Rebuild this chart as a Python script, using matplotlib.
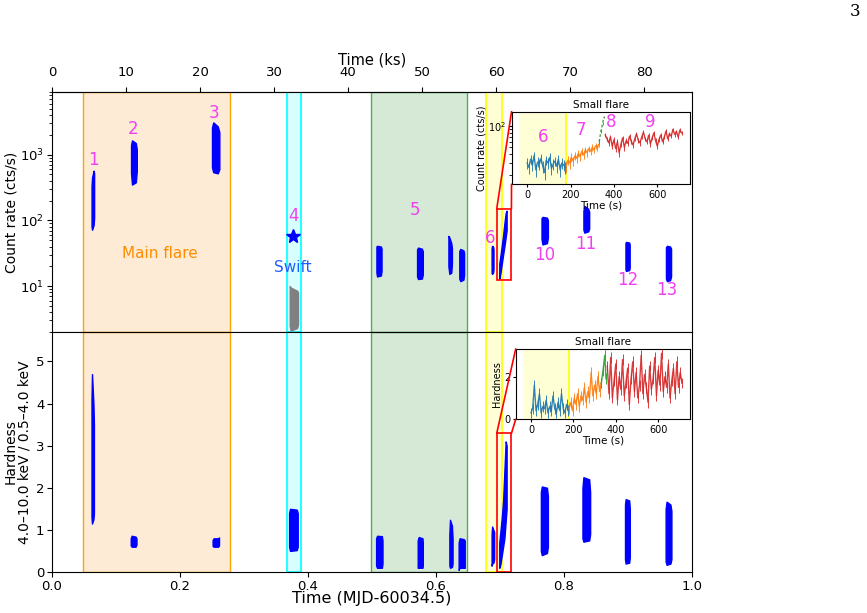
import matplotlib
matplotlib.use("Agg")
import matplotlib.pyplot as plt
from matplotlib.patches import Rectangle, ConnectionPatch

# --- data ---
# main panels: each segment as (times, lower edge, upper edge)
rate_segments = {
    "1": ([0.0618, 0.0626, 0.0650, 0.0658], [80, 72, 85, 110], [330, 450, 570, 520]),
    "2": ([0.1235, 0.125, 0.131, 0.1325], [520, 350, 380, 560], [1400, 1650, 1500, 1200]),
    "3": ([0.250, 0.252, 0.259, 0.2615], [640, 540, 520, 600], [2600, 3100, 2700, 2200]),
    "5a": ([0.507, 0.508, 0.514, 0.515], [16, 14, 14.5, 17], [40, 41, 40, 37]),
    "5b": ([0.5705, 0.572, 0.578, 0.5795], [14, 12.8, 13, 15], [36, 38.5, 37, 34]),
    "5c": ([0.6195, 0.621, 0.624, 0.625], [20, 15.3, 16, 22], [58, 55, 45, 38]),
    "5d": ([0.6365, 0.638, 0.643, 0.644], [13, 11.9, 12.5, 15], [34, 36.7, 35, 32]),
    "6": ([0.687, 0.6878, 0.6893, 0.690], [16, 15.3, 16, 18], [38, 41, 40, 36]),
    "flare": ([0.699, 0.701, 0.703, 0.705, 0.707, 0.709, 0.7105],
              [13, 16, 22, 30, 40, 55, 70], [22, 30, 42, 60, 90, 130, 140]),
    "10": ([0.765, 0.7665, 0.7735, 0.775], [52, 43, 45, 55], [108, 113, 110, 100]),
    "11": ([0.8305, 0.832, 0.838, 0.8395], [72, 65, 68, 75], [140, 166, 150, 135]),
    "12": ([0.8962, 0.897, 0.902, 0.9028], [18, 17, 17.5, 19], [45, 47, 46, 43]),
    "13": ([0.9595, 0.961, 0.966, 0.9675], [13, 11.9, 12.3, 14], [39, 41, 40, 37]),
}
swift_rate = ([0.3715, 0.373, 0.383, 0.3845], [2.5, 2.1, 2.3, 2.6], [10, 9.5, 8.5, 8])
swift_star = (0.377, 58)

hard_segments = {
    "1": ([0.0617, 0.0625, 0.0647, 0.0655], [1.3, 1.15, 1.25, 1.4], [4.1, 4.7, 4.0, 3.5]),
    "2": ([0.123, 0.1245, 0.1305, 0.132], [0.63, 0.6, 0.6, 0.65], [0.8, 0.86, 0.84, 0.8]),
    "3": ([0.251, 0.2525, 0.2595, 0.261], [0.62, 0.6, 0.6, 0.63], [0.76, 0.8, 0.8, 0.82]),
    "4": ([0.3705, 0.372, 0.3825, 0.384], [0.6, 0.5, 0.52, 0.6], [1.4, 1.5, 1.48, 1.4]),
    "5a": ([0.5065, 0.508, 0.5155, 0.5165], [0.15, 0.1, 0.1, 0.2], [0.8, 0.86, 0.85, 0.75]),
    "5b": ([0.5715, 0.573, 0.579, 0.5795], [0.1, 0.1, 0.1, 0.15], [0.75, 0.83, 0.8, 0.7]),
    "5c": ([0.621, 0.622, 0.625, 0.626], [0.15, 0.1, 0.12, 0.2], [0.9, 1.24, 1.1, 0.8]),
    "5d": ([0.6355, 0.637, 0.6435, 0.645], [0.05, 0.1, 0.1, 0.1], [0.7, 0.8, 0.78, 0.75]),
    "6": ([0.687, 0.6878, 0.6898, 0.691], [0.15, 0.2, 0.22, 0.3], [0.9, 1.08, 1.0, 0.95]),
    "flare": ([0.699, 0.701, 0.703, 0.705, 0.707, 0.709, 0.7105],
              [0.1, 0.2, 0.4, 0.6, 0.8, 1.2, 1.5], [0.7, 1.0, 1.3, 1.7, 2.4, 3.1, 3.0]),
    "10": ([0.764, 0.7655, 0.7735, 0.775], [0.5, 0.4, 0.45, 0.6], [1.9, 2.03, 2.0, 1.8]),
    "11": ([0.829, 0.8305, 0.8395, 0.841], [0.8, 0.72, 0.75, 0.9], [2.0, 2.25, 2.2, 1.9]),
    "12": ([0.8955, 0.8965, 0.902, 0.903], [0.3, 0.2, 0.22, 0.35], [1.6, 1.73, 1.7, 1.5]),
    "13": ([0.959, 0.9605, 0.9665, 0.968], [0.25, 0.17, 0.2, 0.3], [1.5, 1.67, 1.6, 1.45]),
}

# segment labels (text, x, count rate)
seg_labels = [("1", 0.064, 815), ("2", 0.127, 2500), ("3", 0.253, 4300),
              ("4", 0.377, 117), ("5", 0.567, 145), ("6", 0.684, 54),
              ("10", 0.770, 29.7), ("11", 0.834, 44), ("12", 0.900, 12.3),
              ("13", 0.961, 8.7)]

# shaded intervals (MJD-60034.5)
main_flare = (0.048, 0.278)
swift_win = (0.368, 0.389)
green_win = (0.499, 0.649)
yellow_win = (0.679, 0.704)
zoom_box = (0.695, 0.718)
zoom_rate = (12.4, 150)
zoom_hard = (0.0, 3.29)

# small flare insets (time in s)
t_blue = [0, 8, 16, 24, 32, 40, 48, 56, 64, 72, 80, 88, 96, 104, 112, 120,
          128, 136, 144, 152, 160, 168, 176]
t_orange = [180, 188, 196, 204, 212, 220, 228, 236, 244, 252, 260, 268, 276,
            284, 292, 300, 308, 316, 324, 330]
t_green = [332, 340, 348, 354]
t_red = [360, 368, 376, 384, 392, 400, 408, 416, 424, 432, 440, 448, 456, 464,
         472, 480, 488, 496, 504, 512, 520, 528, 536, 544, 552, 560, 568, 576,
         584, 592, 600, 608, 616, 624, 632, 640, 648, 656, 664, 672, 680, 688,
         696, 704, 712]

rate_blue = [30, 26, 34, 28, 38, 24, 31, 29, 35, 27, 22, 33, 30, 36, 25, 29,
             32, 27, 34, 24, 30, 28, 26]
rate_orange = [27, 33, 30, 36, 32, 38, 35, 41, 37, 44, 39, 46, 42, 48, 44, 50,
               46, 53, 49, 55]
rate_green = [60, 85, 110, 135]
rate_red = [75, 66, 58, 70, 52, 64, 48, 60, 42, 55, 68, 50, 62, 57, 72, 61, 54,
            66, 78, 63, 58, 70, 82, 66, 60, 74, 56, 68, 80, 62, 52, 65, 75, 60,
            70, 85, 66, 78, 72, 90, 76, 84, 70, 88, 80]

hard_blue = [0.3, 0.5, 1.6, 0.4, 0.7, 1.2, 0.3, 0.6, 0.5, 0.9, 0.3, 0.6, 0.4,
             1.1, 0.5, 0.3, 0.8, 0.4, 1.2, 0.5, 0.3, 0.7, 0.4]
hard_orange = [0.5, 0.8, 0.4, 1.0, 0.7, 1.2, 0.6, 1.1, 0.9, 1.5, 0.8, 1.3, 1.0,
               2.2, 1.1, 1.6, 1.2, 2.0, 1.3, 1.7]
hard_green = [1.7, 2.3, 3.0, 1.9]
hard_red = [2.5, 1.2, 2.9, 1.0, 1.8, 2.6, 0.9, 2.0, 1.4, 2.8, 1.1, 1.7, 2.4, 0.7,
            1.9, 2.7, 1.3, 2.2, 1.0, 1.6, 3.0, 1.2, 2.1, 1.5, 0.8, 2.5, 1.4, 1.9,
            2.9, 1.1, 2.3, 1.6, 3.1, 1.3, 2.0, 1.5, 2.6, 1.0, 1.8, 2.4, 1.2, 2.7,
            1.5, 2.2, 1.7]
rate_err = 5.0     # typical 1-sigma error, cts/s
hard_err = 0.25

inset_labels = [("6", 74, 69), ("7", 247, 88), ("8", 385, 115), ("9", 569, 115)]
yellow_inset = (-36, 178)

MAG = "#f040f0"


def shade(ax):
    ax.axvspan(*main_flare, facecolor="#fdebd6", edgecolor="orange", lw=1.0)
    ax.axvspan(*swift_win, facecolor="#d8ffff", edgecolor="cyan", lw=1.2)
    ax.axvspan(*green_win, facecolor="#d6e9d6", edgecolor="#4caf50", lw=1.0)
    ax.axvspan(*yellow_win, facecolor="#ffffd6", edgecolor="yellow", lw=1.2)


def draw_segments(ax, segs, color="blue"):
    for t, lo, hi in segs.values():
        ax.fill_between(t, lo, hi, color=color, lw=1.0, zorder=3)


def inset(fig, rect, series, err, ylog):
    ax = fig.add_axes(rect)
    ax.axvspan(*yellow_inset, facecolor="#ffffd6", zorder=0)
    ax.axvline(yellow_inset[1], color="yellow", lw=1.2, zorder=1)
    cols = ["tab:blue", "tab:orange", "tab:green", "tab:red"]
    for (t, v), c in zip(series, cols):
        ls = (0, (2, 1.5)) if (c == "tab:green" and ylog) else "-"
        ax.errorbar(t, v, yerr=err, color=c, lw=1.0, ls=ls, elinewidth=0.7,
                    capsize=0, alpha=0.9)
    ax.set_xlim(-72, 750)
    ax.set_xticks([0, 200, 400, 600])
    ax.tick_params(labelsize=7, length=2.5, pad=1.5)
    ax.set_xlabel("Time (s)", fontsize=7.5, labelpad=0.5)
    ax.set_title("Small flare", fontsize=7.5, pad=3)
    if ylog:
        ax.set_yscale("log")
        ax.set_ylim(15, 160)
    return ax


fig = plt.figure(figsize=(8.67, 6.13), dpi=100)
ax1 = fig.add_axes([0.060, 0.4584, 0.738, 0.3916])
ax2 = fig.add_axes([0.060, 0.0669, 0.738, 0.3916], sharex=ax1)

# top: count rate
shade(ax1)
draw_segments(ax1, rate_segments)
ax1.fill_between(*swift_rate, color="gray", lw=1.0, zorder=3)
ax1.plot(*swift_star, marker="*", ms=10, color="blue", zorder=4)
ax1.set_yscale("log")
ax1.set_ylim(2, 9000)
ax1.set_xlim(0, 1)
ax1.set_ylabel("Count rate (cts/s)", fontsize=10, labelpad=1)
ax1.tick_params(axis="x", bottom=False, labelbottom=False)
ax1.tick_params(axis="y", labelsize=9.5, pad=2)
for s, x, y in seg_labels:
    ax1.text(x, y, s, color=MAG, fontsize=12, ha="center", va="center")
ax1.text(0.169, 30.8, "Main flare", color="darkorange", fontsize=11,
         ha="center", va="center")
ax1.text(0.377, 19.5, "Swift", color="#1f5fff", fontsize=11,
         ha="center", va="center")
ax1.add_patch(Rectangle((zoom_box[0], zoom_rate[0]), zoom_box[1] - zoom_box[0],
                        zoom_rate[1] - zoom_rate[0], fill=False,
                        edgecolor="red", lw=1.2, zorder=5))

top = ax1.secondary_xaxis("top", functions=(lambda d: d * 86.4,
                                            lambda k: k / 86.4))
top.set_xticks([0, 10, 20, 30, 40, 50, 60, 70, 80])
top.tick_params(labelsize=9.5, pad=6)
top.set_xlabel("Time (ks)", fontsize=10.5, labelpad=1)

# bottom: hardness
shade(ax2)
draw_segments(ax2, hard_segments)
ax2.set_ylim(0, 5.7)
ax2.set_xlim(0, 1)
ax2.set_xticks([0.0, 0.2, 0.4, 0.6, 0.8, 1.0])
ax2.tick_params(labelsize=9.5, pad=2)
ax2.set_xlabel("Time (MJD-60034.5)", fontsize=11.5, labelpad=-1)
ax2.set_ylabel("Hardness\n4.0\u201310.0 keV / 0.5\u20134.0 keV", fontsize=10,
               multialignment="center", labelpad=3, linespacing=1.0)
ax2.add_patch(Rectangle((zoom_box[0], zoom_hard[0]), zoom_box[1] - zoom_box[0],
                        zoom_hard[1] - zoom_hard[0], fill=False,
                        edgecolor="red", lw=1.2, zorder=5))

# insets
in1 = inset(fig, [0.590, 0.6994, 0.2057, 0.1184],
            [(t_blue, rate_blue), (t_orange, rate_orange),
             (t_green, rate_green), (t_red, rate_red)], rate_err, True)
in1.set_ylabel("Count rate (cts/s)", fontsize=7, labelpad=1)
for s, x, y in inset_labels:
    in1.text(x, y, s, color=MAG, fontsize=12, ha="center", va="center")

in2 = inset(fig, [0.5948, 0.316, 0.201, 0.1147],
            [(t_blue, hard_blue), (t_orange, hard_orange),
             (t_green, hard_green), (t_red, hard_red)], hard_err, False)
in2.set_ylim(0, 3.3)
in2.set_yticks([0, 2])
in2.set_ylabel("Hardness", fontsize=7, labelpad=1)

# connectors from zoom boxes to insets
for ax, inn, ytop in [(ax1, in1, zoom_rate[1]), (ax2, in2, zoom_hard[1])]:
    for xa, yb in [(zoom_box[0], 1), (zoom_box[1], 0)]:
        con = ConnectionPatch(xyA=(xa, ytop), coordsA=ax.transData,
                              xyB=(0, yb), coordsB=inn.transAxes,
                              color="red", lw=1.2)
        fig.add_artist(con)

fig.text(855 / 867, 1 - 12 / 613, "3", family="DejaVu Serif", fontsize=12,
         ha="center", va="center")

fig.savefig("out.png", dpi=100)
